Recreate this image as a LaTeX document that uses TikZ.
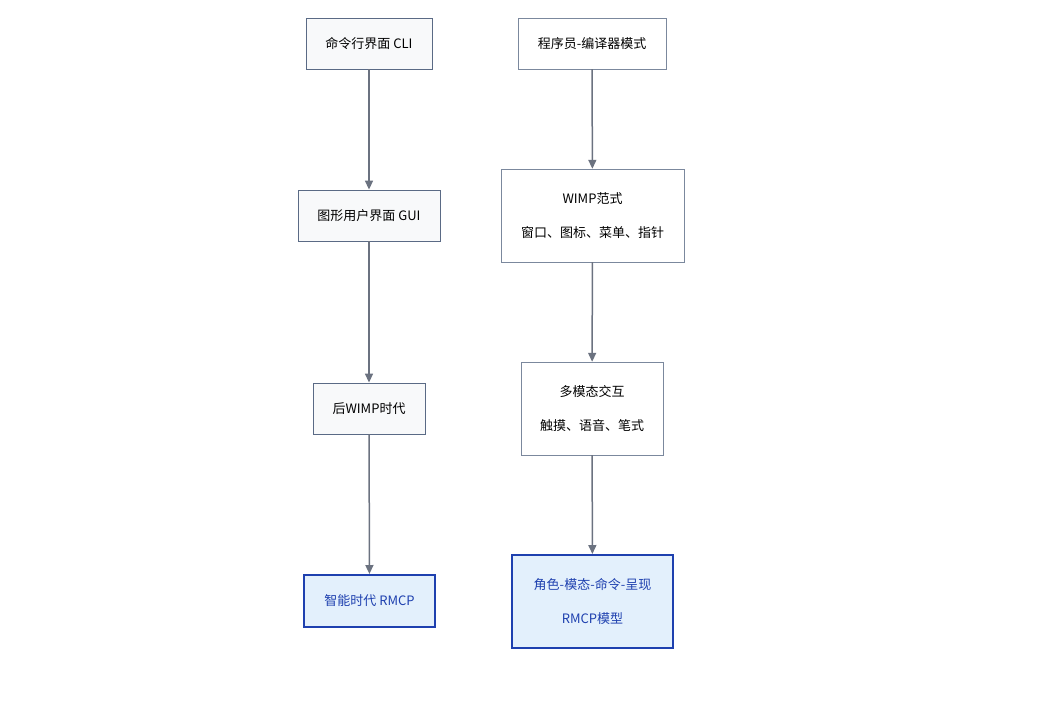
\documentclass[tikz,border=0pt]{standalone}
\usepackage{fontspec}
\setmainfont{Noto Sans CJK SC}
\usetikzlibrary{arrows.meta,positioning}
\definecolor{edgegray}{HTML}{6B7280}
\definecolor{boxline}{HTML}{5A6A85}
\definecolor{boxfill}{HTML}{F8F9FA}
\definecolor{rmcpline}{HTML}{1E40AF}
\definecolor{rmcpfill}{HTML}{E3F0FC}
\tikzset{
  stage/.style={draw=boxline,fill=boxfill,thick,minimum height=51pt,inner sep=0pt},
  mode/.style={draw=boxline!80,fill=white,minimum height=51pt,inner sep=0pt,align=center},
  rmcp/.style={draw=rmcpline,fill=rmcpfill,line width=2pt,text=rmcpline,inner sep=0pt,align=center},
  flow/.style={draw=edgegray,line width=1.5pt,-{Triangle[length=9pt,width=8pt]}}
}
\begin{document}
\begin{tikzpicture}[x=1pt,y=-1pt,font=\fontsize{13}{16}\selectfont]
  \useasboundingbox (0,0) rectangle (1038,704);
  % left column: interface eras
  \node (cli) [stage,minimum width=126pt] at (369,43.5) {命令行界面 CLI};
  \node (gui) [stage,minimum width=142pt] at (369,215.5) {图形用户界面 GUI};
  \node (post) [stage,minimum width=112pt] at (369,408.5) {后WIMP时代};
  \node (smart) [rmcp,minimum width=131pt,minimum height=52pt] at (369.5,601) {智能时代 RMCP};
  % right column: interaction models
  \node (prog) [mode,minimum width=148pt] at (592,43.5) {程序员-编译器模式};
  \node (wimp) [mode,minimum width=183pt,minimum height=93pt] at (592.5,215.5) {WIMP范式\\[18pt]窗口、图标、菜单、指针};
  \node (multi) [mode,minimum width=142pt,minimum height=93pt] at (592,408.5) {多模态交互\\[18pt]触摸、语音、笔式};
  \node (model) [rmcp,minimum width=161pt,minimum height=93pt] at (592.5,601.5) {角色-模态-命令-呈现\\[18pt]RMCP模型};
  \draw[flow] (cli) -- (gui);
  \draw[flow] (gui) -- (post);
  \draw[flow] (post) -- (smart);
  \draw[flow] (prog) -- (wimp);
  \draw[flow] (wimp) -- (multi);
  \draw[flow] (multi) -- (model);
\end{tikzpicture}
\end{document}
